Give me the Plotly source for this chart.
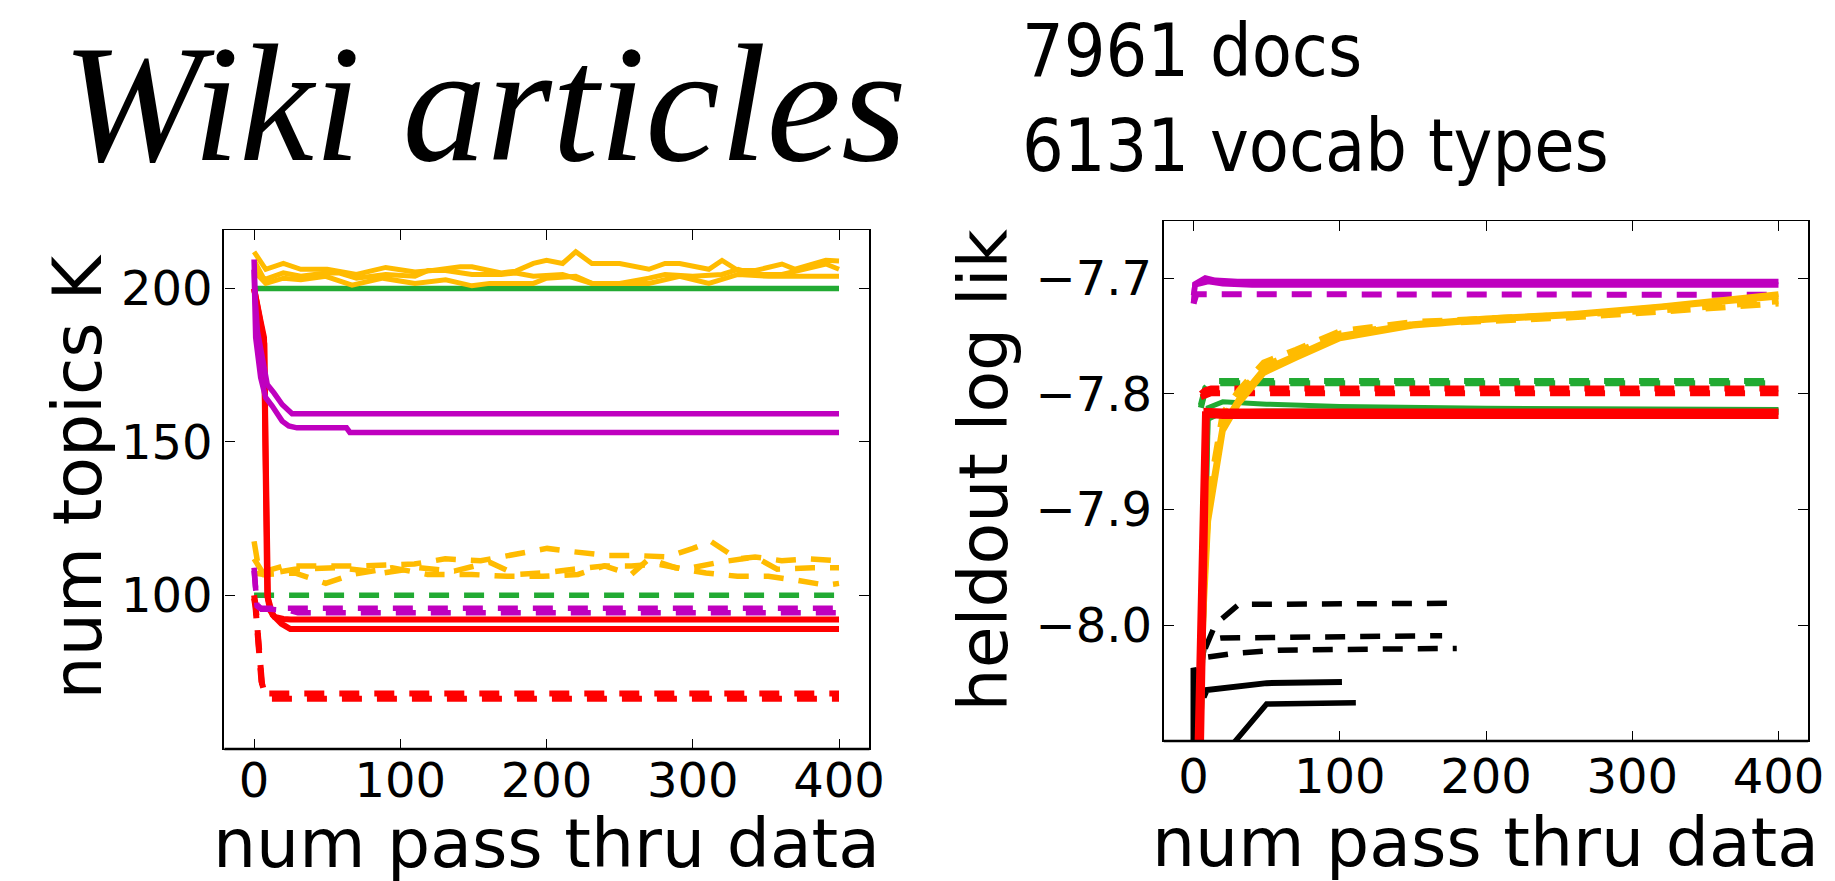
import plotly.graph_objects as go

W, H = 1835, 881

GOLD = "#FFBB00"
GREEN = "#22AA33"
MAG = "#BF00BF"
RED = "#FF0000"
BLACK = "#000000"

# ---------------- tick values / labels ----------------
pass_ticks = [0, 100, 200, 300, 400]
k_ticks = [100, 150, 200]
ll_ticks = [-8.0, -7.9, -7.8, -7.7]
ll_ticktext = ["\u22128.0", "\u22127.9", "\u22127.8", "\u22127.7"]

# ---------------- left panel: num topics K ----------------
k_gold1_x = [0, 8, 20, 32, 50, 70, 90, 110, 122, 141, 149, 169, 179, 191, 200, 211, 220, 231, 250, 270, 281, 291, 311, 320, 331, 343, 361, 370, 391, 400]
k_gold1_y = [212.0, 206.3, 208.2, 206.3, 206.3, 204.6, 206.9, 205.4, 205.9, 207.1, 207.1, 205.1, 205.7, 208.2, 209.2, 208.2, 212.0, 208.2, 208.2, 206.3, 208.2, 208.2, 206.3, 209.2, 205.9, 205.9, 208.0, 206.3, 209.2, 209.0]
k_gold2_x = [0, 7, 20, 32, 49, 58, 70, 90, 110, 119, 131, 149, 169, 179, 191, 211, 231, 250, 270, 281, 300, 320, 331, 343, 361, 370, 391, 400]
k_gold2_y = [209.2, 202.9, 205.1, 204.0, 205.1, 205.1, 203.4, 204.6, 204.0, 205.9, 205.9, 204.6, 204.6, 205.1, 204.0, 204.6, 201.7, 201.7, 203.4, 204.6, 204.0, 204.6, 206.3, 204.6, 204.6, 205.7, 208.0, 206.3]
k_gold3_x = [0, 8, 20, 32, 49, 67, 88, 110, 131, 149, 161, 191, 200, 220, 231, 250, 270, 291, 311, 331, 352, 370, 391, 400]
k_gold3_y = [205.7, 201.7, 203.4, 202.9, 204.0, 201.1, 203.4, 201.7, 202.9, 200.9, 201.7, 201.7, 203.4, 204.0, 201.7, 201.7, 201.7, 204.0, 201.7, 204.6, 204.0, 204.0, 204.0, 204.0]
k_green_x = [0, 400]
k_green_y = [200, 200]
k_mag1_x = [0, 0.7, 2.3, 5.6, 9, 13.6, 19.2, 26, 400]
k_mag1_y = [209.5, 197, 186.1, 177.4, 168.7, 166, 162.2, 159.2, 159.2]
k_mag2_x = [0, 1.1, 4.5, 7.9, 12.4, 19.2, 23.7, 29.3, 63.2, 65.5, 400]
k_mag2_y = [206.2, 184, 171, 164.5, 161.7, 156.8, 155.2, 154.6, 154.6, 153.1, 153.1]
k_red1_x = [0, 2, 4.6, 6.8, 7.5, 8.2, 9, 11, 14, 20, 25, 400]
k_red1_y = [200, 196, 189, 184, 160, 110, 100, 95, 93, 92.3, 92.1, 92.1]
k_red2_x = [0, 2, 4.6, 7, 7.8, 8.6, 9.5, 12.7, 18.8, 24.8, 400]
k_red2_y = [200, 195, 188, 182, 150, 105, 99, 93.6, 90.7, 89, 89]

k_gold4_x = [0, 3.6, 20.3, 46, 73.2, 109.6, 130.7, 155, 179.2, 200.4, 218.5, 242, 261, 282, 300.2, 312.3, 330.5, 342.6, 360.8, 379, 400]
k_gold4_y = [117.6, 107.3, 109.6, 109.6, 109.6, 110.2, 111.9, 111.3, 113.6, 115.3, 114.2, 113.0, 113.0, 112.5, 115.3, 117.6, 111.9, 112.5, 111.3, 111.9, 111.3]
k_gold5_x = [0, 6.7, 27.8, 58.1, 88.4, 112.6, 136.8, 161, 179.2, 197.3, 218.5, 239.7, 257.9, 276, 294.2, 318.4, 342.6, 357.7, 382, 400]
k_gold5_y = [111.9, 106.8, 108.5, 109.0, 107.3, 109.0, 107.9, 110.8, 106.8, 107.3, 108.5, 109.6, 109.6, 110.2, 108.5, 110.8, 112.5, 108.5, 109.0, 109.0]
k_gold6_x = [0, 6.7, 27.8, 49, 67.2, 94.4, 118.6, 148.9, 173.1, 197.3, 221.5, 239.7, 257.9, 270, 288.1, 309, 330.5, 351.7, 369.9, 391, 400]
k_gold6_y = [107.3, 106.8, 107.3, 103.9, 106.8, 109.0, 106.8, 106.8, 106.2, 106.2, 106.8, 109.6, 106.8, 111.9, 109.0, 107.3, 106.2, 106.2, 105.0, 103.3, 103.9]
k_green_d_x = [0, 400]
k_green_d_y = [100, 100]
k_mag_d1_x = [0, 1, 2, 4, 400]
k_mag_d1_y = [109, 103, 96.5, 95.8, 95.8]
k_mag_d2_x = [0, 2, 5, 10, 25, 30, 400]
k_mag_d2_y = [108, 97, 95.5, 95.5, 95.0, 94.3, 94.3]
k_red_d1_x = [0, 1, 3, 5, 6, 400]
k_red_d1_y = [100, 97, 85, 72, 68, 68]
k_red_d2_x = [0, 1, 3, 5, 7, 11, 400]
k_red_d2_y = [99, 96, 84, 72, 68.5, 66.3, 66.3]

# ---------------- right panel: heldout log lik ----------------
ll_black1_x = [0, 0, 7, 9, 50, 101.5]
ll_black1_y = [-8.15, -8.037, -8.062, -8.056, -8.050, -8.049]
ll_black2_x = [20, 50, 111]
ll_black2_y = [-8.113, -8.068, -8.067]
ll_black_d1_x = [8, 15, 31, 180]
ll_black_d1_y = [-8.02, -7.999, -7.982, -7.981]
ll_black_d2_x = [6, 8, 19, 100, 170]
ll_black_d2_y = [-8.03, -8.013, -8.011, -8.0095, -8.009]
ll_black_d3_x = [10, 30, 58, 120, 180]
ll_black_d3_y = [-8.0275, -8.024, -8.0215, -8.0205, -8.020]

ll_mag1_x = [0, 1, 8, 15, 30, 400]
ll_mag1_y = [-7.722, -7.705, -7.700, -7.702, -7.703, -7.703]
ll_mag2_x = [0, 1, 10, 20, 40, 400]
ll_mag2_y = [-7.715, -7.706, -7.703, -7.705, -7.706, -7.706]
ll_mag_d_x = [0, 2, 5, 400]
ll_mag_d_y = [-7.722, -7.714, -7.714, -7.7145]

ll_green1_x = [5, 10, 20, 50, 100, 200, 400]
ll_green1_y = [-8.1, -7.812, -7.807, -7.809, -7.811, -7.8125, -7.8135]
ll_green2_x = [5, 10, 20, 50, 400]
ll_green2_y = [-8.1, -7.822, -7.816, -7.815, -7.815]
ll_green_d1_x = [5, 8, 12, 400]
ll_green_d1_y = [-7.81, -7.795, -7.789, -7.789]
ll_green_d2_x = [5, 8, 15, 400]
ll_green_d2_y = [-7.812, -7.797, -7.791, -7.791]

ll_gold_x = [4, 7, 10, 20, 31, 48, 70, 100, 150, 200, 260, 320, 400]
ll_gold1_y = [-8.1, -7.973, -7.903, -7.828, -7.805, -7.779, -7.767, -7.750, -7.740, -7.735, -7.731, -7.7246, -7.714]
ll_gold2_y = [-8.1, -7.985, -7.91, -7.832, -7.808, -7.782, -7.769, -7.752, -7.741, -7.736, -7.732, -7.725, -7.716]
ll_gold_d1_y = [-8.1, -7.96, -7.89, -7.817, -7.797, -7.773, -7.762, -7.746, -7.738, -7.735, -7.732, -7.728, -7.72]
ll_gold_d2_y = [-8.1, -7.97, -7.90, -7.822, -7.800, -7.776, -7.764, -7.748, -7.740, -7.737, -7.734, -7.729, -7.722]

ll_red_d1_x = [5, 8, 12, 400]
ll_red_d1_y = [-7.80, -7.797, -7.7955, -7.7955]
ll_red_d2_x = [5, 8, 12, 400]
ll_red_d2_y = [-7.803, -7.801, -7.7995, -7.7995]
ll_red1_x = [5, 9, 20, 400]
ll_red1_y = [-8.1, -7.815, -7.8155, -7.8155]
ll_red2_x = [3, 8, 20, 400]
ll_red2_y = [-8.1, -7.818, -7.819, -7.819]

DASH = "20px,15px"

fig = go.Figure()


def add(x, y, color, width, dash="solid", ax=1):
    fig.add_trace(go.Scatter(
        x=x, y=y, mode="lines",
        line=dict(color=color, width=width, dash=dash),
        xaxis="x" if ax == 1 else "x2",
        yaxis="y" if ax == 1 else "y2",
        showlegend=False, hoverinfo="skip",
    ))


# left panel
add(k_green_x, k_green_y, GREEN, 5.5)
add(k_green_d_x, k_green_d_y, GREEN, 5.5, DASH)
add(k_gold1_x, k_gold1_y, GOLD, 5)
add(k_gold2_x, k_gold2_y, GOLD, 5)
add(k_gold3_x, k_gold3_y, GOLD, 5)
add(k_gold4_x, k_gold4_y, GOLD, 5.5, DASH)
add(k_gold5_x, k_gold5_y, GOLD, 5.5, DASH)
add(k_gold6_x, k_gold6_y, GOLD, 5.5, DASH)
add(k_red1_x, k_red1_y, RED, 6)
add(k_red2_x, k_red2_y, RED, 6)
add(k_red_d1_x, k_red_d1_y, RED, 6, DASH)
add(k_red_d2_x, k_red_d2_y, RED, 6, DASH)
add(k_mag1_x, k_mag1_y, MAG, 5.5)
add(k_mag2_x, k_mag2_y, MAG, 5.5)
add(k_mag_d1_x, k_mag_d1_y, MAG, 5.5, DASH)
add(k_mag_d2_x, k_mag_d2_y, MAG, 5.5, DASH)

# right panel
add(ll_black1_x, ll_black1_y, BLACK, 6, ax=2)
add(ll_black2_x, ll_black2_y, BLACK, 5.5, ax=2)
add(ll_black_d1_x, ll_black_d1_y, BLACK, 5.5, DASH, ax=2)
add(ll_black_d2_x, ll_black_d2_y, BLACK, 5.5, DASH, ax=2)
add(ll_black_d3_x, ll_black_d3_y, BLACK, 5.5, DASH, ax=2)
add(ll_mag1_x, ll_mag1_y, MAG, 5.5, ax=2)
add(ll_mag2_x, ll_mag2_y, MAG, 5.5, ax=2)
add(ll_mag_d_x, ll_mag_d_y, MAG, 6, DASH, ax=2)
add(ll_green1_x, ll_green1_y, GREEN, 5, ax=2)
add(ll_green2_x, ll_green2_y, GREEN, 5, ax=2)
add(ll_green_d1_x, ll_green_d1_y, GREEN, 6, DASH, ax=2)
add(ll_green_d2_x, ll_green_d2_y, GREEN, 6, DASH, ax=2)
add(ll_red_d1_x, ll_red_d1_y, RED, 6, DASH, ax=2)
add(ll_red_d2_x, ll_red_d2_y, RED, 6, DASH, ax=2)
add(ll_gold_x, ll_gold1_y, GOLD, 6, ax=2)
add(ll_gold_x, ll_gold2_y, GOLD, 6, ax=2)
add(ll_gold_x, ll_gold_d1_y, GOLD, 6, DASH, ax=2)
add(ll_gold_x, ll_gold_d2_y, GOLD, 6, DASH, ax=2)
add(ll_red1_x, ll_red1_y, RED, 6.5, ax=2)
add(ll_red2_x, ll_red2_y, RED, 6.5, ax=2)


def px(xp):
    return xp / W


def py(yp):
    return 1 - yp / H


TICKFONT = dict(family="DejaVu Sans", size=48, color="black")
XLBLFONT = dict(family="DejaVu Sans", size=68, color="black")
YLBLFONT = dict(family="DejaVu Sans", size=68, color="black")

L_X = [218.3, 869.0]
L_Y = [221.7, 741.0]
R_X = [1166.0, 1816.0]
R_Y = [213.3, 733.0]

common_x = dict(ticks="inside", ticklen=10, tickwidth=1.2, tickcolor="black",
                showline=True, linewidth=1.3, linecolor="black", mirror="ticks",
                showgrid=False, zeroline=False, tickfont=TICKFONT,
                tickvals=pass_ticks, ticktext=[str(v) for v in pass_ticks])
common_y = dict(ticks="inside", ticklen=10, tickwidth=1.2, tickcolor="black",
                showline=True, linewidth=2.3, linecolor="black", mirror="ticks",
                showgrid=False, zeroline=False, tickfont=TICKFONT)

fig.update_layout(
    width=W, height=H,
    margin=dict(l=0, r=0, t=0, b=0),
    paper_bgcolor="white", plot_bgcolor="white",
    showlegend=False,
    xaxis=dict(common_x, domain=[px(L_X[0]), px(L_X[1])], range=[-20.3, 420.8], anchor="y",
               ticklabelstandoff=-11),
    yaxis=dict(common_y, domain=[py(L_Y[1]), py(L_Y[0])], range=[49.9, 219.2], anchor="x",
               tickvals=k_ticks, ticktext=[str(v) for v in k_ticks]),
    xaxis2=dict(common_x, domain=[px(R_X[0]), px(R_X[1])], range=[-20.3, 420.3], anchor="y2",
                ticklabelstandoff=-7),
    yaxis2=dict(common_y, domain=[py(R_Y[1]), py(R_Y[0])], range=[-8.1, -7.651], anchor="x2",
                tickvals=ll_ticks, ticktext=ll_ticktext),
)

shapes = []
for X, Y in ((L_X, L_Y), (R_X, R_Y)):
    shapes.append(dict(type="line", xref="paper", yref="paper",
                       x0=px(X[0]), x1=px(X[1]), y0=py(Y[1]), y1=py(Y[1]),
                       line=dict(color="black", width=2.3), layer="above"))
# the first panel's last tick label is cut off at the panel edge
shapes.append(dict(type="rect", xref="paper", yref="paper",
                   x0=px(884), x1=px(948), y0=py(805), y1=py(740),
                   line=dict(width=0), fillcolor="white", layer="above"))
fig.update_layout(shapes=shapes)

annotations = [
    dict(text="<i>Wiki articles</i>", x=px(52), y=1.0, xanchor="left", yanchor="top",
         font=dict(family="Liberation Serif", size=168, color="black")),
    dict(text="7961 docs<br>6131 vocab types", x=px(1021), y=py(90), xanchor="left", yanchor="middle",
         align="left", font=dict(family="DejaVu Sans Condensed, DejaVu Sans", size=73, color="black")),
    dict(text="num topics K", x=px(70), y=py(468), textangle=-90, xanchor="center", yanchor="middle",
         font=YLBLFONT),
    dict(text="heldout log lik", x=px(984), y=py(462), textangle=-90, xanchor="center", yanchor="middle",
         font=YLBLFONT),
    dict(text="num pass thru data", x=px(543.5), y=py(835), xanchor="center", yanchor="middle",
         font=XLBLFONT),
    dict(text="num pass thru data", x=px(1491), y=py(834), xanchor="center", yanchor="middle",
         font=XLBLFONT),
]
for a in annotations:
    a.update(xref="paper", yref="paper", showarrow=False)
fig.update_layout(annotations=annotations)

fig.write_html("out.html")
